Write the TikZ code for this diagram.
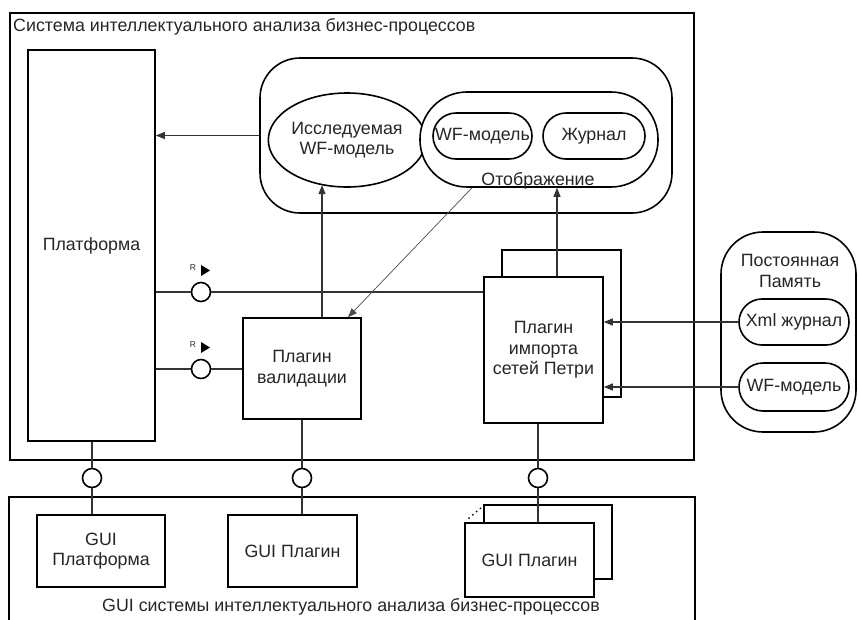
\documentclass[tikz,border=0pt]{standalone}
\usepackage{fontspec}
\setmainfont{Liberation Sans}
\usetikzlibrary{shapes.geometric,arrows.meta}
\begin{document}
\begin{tikzpicture}[x=1pt,y=-1pt,
  frame/.style={draw=black,line width=1.6pt,inner sep=0pt,fill=white},
  txt/.style={font=\fontsize{17.8}{20.5}\selectfont,align=center,text=black!85},
  conn/.style={line width=1.1pt,draw=black!80},
  arr/.style={conn,-{Triangle[length=9pt,width=7pt]}},
  thinarr/.style={line width=0.7pt,draw=black!70,-{Triangle[length=9pt,width=7pt]}},
  iface/.style={circle,draw=black,line width=1.6pt,minimum size=19pt,inner sep=0pt,fill=white},
  rtag/.style={font=\fontsize{8.5}{9}\selectfont,text=black!85,inner sep=0pt}]
\useasboundingbox (0,0) rectangle (858,619);
\clip (0,0) rectangle (858,619);

% analysis system frame
\node[frame,fill=none,minimum width=684pt,minimum height=447pt] (sys) at (352,236.5) {};
\node[txt,anchor=west,inner sep=0pt] (systitle) at (13,27) {Система интеллектуального анализа бизнес-процессов};

% platform
\node[frame,txt,minimum width=127pt,minimum height=391pt] (plat) at (91.5,245.5) {Платформа};

% models area
\node[frame,rounded corners=40pt,minimum width=412pt,minimum height=155pt] (models) at (466,135.5) {};
\node[frame,txt,ellipse,minimum width=124pt,minimum height=94pt] (res) at (347,140) {Исследуемая\\WF-модель};
\node[frame,rounded corners=47pt,minimum width=238pt,minimum height=95pt] (disp) at (539,139.5) {};
\node[frame,txt,rounded corners=23pt,minimum width=99pt,minimum height=46pt] (wf) at (482.5,136) {WF-модель};
\node[frame,txt,rounded corners=23pt,minimum width=102pt,minimum height=46pt] (jour) at (594,136) {Журнал};
\node[txt,inner sep=0pt] (displbl) at (538,181) {Отображение};

% plugins
\node[frame,txt,minimum width=118pt,minimum height=101pt] (val) at (302,368.5) {Плагин\\валидации};
\node[frame,minimum width=119pt,minimum height=147pt] (impb) at (561.5,323.5) {};
\node[frame,txt,minimum width=119pt,minimum height=146pt] (impf) at (543.5,350) {Плагин\\импорта\\сетей Петри};

% persistent storage
\node[frame,rounded corners=42pt,minimum width=135pt,minimum height=200pt] (mem) at (788.5,332) {};
\node[txt,inner sep=0pt] (memlbl) at (790,271) {Постоянная\\Память};
\node[frame,txt,rounded corners=23pt,minimum width=110pt,minimum height=46pt] (xml) at (794,322) {Xml журнал};
\node[frame,txt,rounded corners=24pt,minimum width=110pt,minimum height=48pt] (wfm) at (794,387) {WF-модель};

% GUI frame
\node[frame,fill=none,minimum width=686pt,minimum height=170pt] (gui) at (352,582) {};
\node[txt,inner sep=0pt] (guilbl) at (351,607) {GUI системы интеллектуального анализа бизнес-процессов};
\node[frame,txt,minimum width=128pt,minimum height=72pt] (gp) at (101,551) {GUI\\Платформа};
\node[frame,txt,minimum width=129pt,minimum height=72pt] (gpl) at (292.5,551) {GUI Плагин};
\node[frame,minimum width=128pt,minimum height=74pt] (gb) at (548,542) {};
\node[frame,txt,minimum width=129pt,minimum height=74pt] (gf) at (529.5,560) {GUI Плагин};
\draw[line width=2pt,line cap=round,dash pattern=on 0pt off 5pt] (469,518) -- (482,507);

% interface sockets
\node[iface] (c1) at (201,292) {};
\node[iface] (c2) at (201,369) {};
\node[iface] (c3) at (92,478) {};
\node[iface] (c4) at (302,478) {};
\node[iface] (c5) at (538,478) {};

% required-interface tags
\node[rtag] (r1) at (193,268) {R};
\fill[black] (201,265) -- (210,270.5) -- (201,276) -- cycle;
\node[rtag] (r2) at (193,345) {R};
\fill[black] (201,342) -- (210,347.5) -- (201,353) -- cycle;

% connectors
\draw[arr] (models.west) -- (models.west -| plat.east);
\draw[conn] (plat.east |- c1.west) -- (c1.west);
\draw[conn] (c1.east) -- (c1.east -| impf.west);
\draw[conn] (plat.east |- c2.west) -- (c2.west);
\draw[conn] (c2.east) -- (c2.east -| val.west);
\draw[arr] ([xshift=20pt]val.north) -- ([xshift=20pt]val.north |- res.240);
\draw[arr] ([xshift=13.5pt]impf.north) -- ([xshift=13.5pt]impf.north |- disp.south);
\draw[thinarr] ([xshift=-67pt]disp.south) -- ([xshift=46pt]val.north);
\draw[arr] (xml.west) -- (xml.west -| impf.east);
\draw[arr] (wfm.west) -- (wfm.west -| impf.east);
\draw[conn] (plat.south -| c3) -- (c3.north);
\draw[conn] (c3.south) -- (c3.south |- gp.north);
\draw[conn] (val.south) -- (c4.north);
\draw[conn] (c4.south) -- (c4.south |- gpl.north);
\draw[conn] (c5 |- impf.south) -- (c5.north);
\draw[conn] (c5.south) -- (c5.south |- gf.north);
\end{tikzpicture}
\end{document}
